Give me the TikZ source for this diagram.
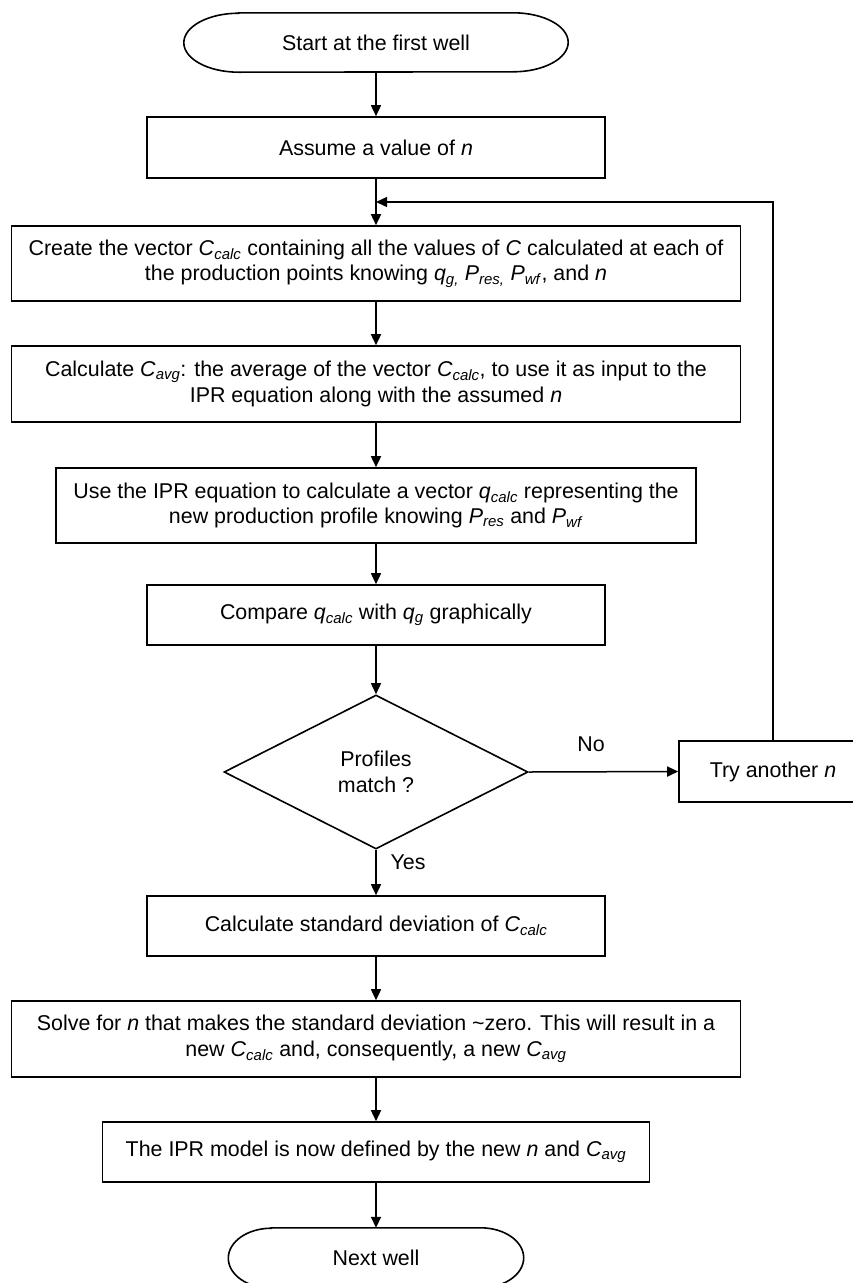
\documentclass[tikz,border=0pt]{standalone}
\usepackage{fontspec}
\setmainfont{Liberation Sans}
\usetikzlibrary{shapes.geometric,arrows.meta}

% italic symbol with italic subscript
\newcommand\vsub[2]{\textit{#1}\textsubscript{\textit{#2}}}

\tikzset{
  base/.style={font=\fontsize{21.4}{25.5}\selectfont, align=center, inner sep=0pt},
  box/.style={base, draw, line width=1.6pt, rectangle},
  termtext/.style={base, draw=none},
  decision/.style={base, draw, line width=1.6pt, diamond, shape aspect=1.97},
  shapeline/.style={line width=1.6pt},
  flow/.style={line width=1.5pt, -{Triangle[length=11pt,width=10pt]}},
  lbl/.style={base}
}

\begin{document}
\begin{tikzpicture}[x=1pt,y=-1pt]
\useasboundingbox (0,0) rectangle (852,1283);

% terminal: start
\node[termtext, minimum width=384pt, minimum height=59pt] (start) at (376,42.5) {Start at the first well};
\draw[shapeline] ([xshift=55pt]start.north west) -- ([xshift=-55pt]start.north east)
  arc[start angle=90, end angle=-90, x radius=55pt, y radius=29.5pt]
  -- ([xshift=55pt]start.south west)
  arc[start angle=270, end angle=90, x radius=55pt, y radius=29.5pt] -- cycle;

% process steps
\node[box, minimum width=458pt, minimum height=61pt] (assume) at (376,147.5) {Assume a value of \textit{n}};
\node[box, minimum width=729pt, minimum height=75pt] (create) at (376,263.5)
  {Create the vector \vsub{C}{calc} containing all the values of \textit{C} calculated at each of\\
   the production points knowing \vsub{q}{g,} \vsub{P}{res,} \vsub{P}{wf}, and \textit{n}};
\node[box, minimum width=729pt, minimum height=76pt] (cavg) at (376,384)
  {Calculate \vsub{C}{avg}: the average of the vector \vsub{C}{calc}, to use it as input to the\\
   IPR equation along with the assumed \textit{n}};
\node[box, minimum width=640pt, minimum height=75pt] (ipr) at (376,505.5)
  {Use the IPR equation to calculate a vector \vsub{q}{calc} representing the\\
   new production profile knowing \vsub{P}{res} and \vsub{P}{wf}};
\node[box, minimum width=458pt, minimum height=60pt] (compare) at (376,615)
  {Compare \vsub{q}{calc} with \vsub{q}{g} graphically};

% decision
\node[decision, minimum width=304pt, minimum height=154pt] (match) at (376,772) {Profiles\\match ?};

\node[box, minimum width=188pt, minimum height=61pt] (try) at (773,771.5) {Try another \textit{n}};

\node[box, minimum width=458pt, minimum height=60pt] (std) at (376,926)
  {Calculate standard deviation of \vsub{C}{calc}};
\node[box, minimum width=729pt, minimum height=76pt] (solve) at (376,1039)
  {Solve for \textit{n} that makes the standard deviation \textasciitilde zero. This will result in a\\
   new \vsub{C}{calc} and, consequently, a new \vsub{C}{avg}};
\node[box, minimum width=547pt, minimum height=60pt] (model) at (376,1152)
  {The IPR model is now defined by the new \textit{n} and \vsub{C}{avg}};

% terminal: next well
\node[termtext, minimum width=295pt, minimum height=60pt] (next) at (376,1258) {Next well};
\draw[shapeline] ([xshift=43pt]next.north west) -- ([xshift=-43pt]next.north east)
  arc[start angle=90, end angle=-90, x radius=43pt, y radius=30pt]
  -- ([xshift=43pt]next.south west)
  arc[start angle=270, end angle=90, x radius=43pt, y radius=30pt] -- cycle;

% connectors
\coordinate (join) at (376,202);
\draw[flow] (start.south) -- (assume.north);
\draw[flow] (assume.south) -- (create.north);
\draw[flow] (create.south) -- (cavg.north);
\draw[flow] (cavg.south) -- (ipr.north);
\draw[flow] (ipr.south) -- (compare.north);
\draw[flow] (compare.south) -- (match.north);
\draw[flow] (match.east) -- (try.west);
\draw[flow] (try.north) |- (join);
\draw[flow] (match.south) -- (std.north);
\draw[flow] (std.south) -- (solve.north);
\draw[flow] (solve.south) -- (model.north);
\draw[flow] (model.south) -- (next.north);

% branch labels
\node[lbl] (nolbl) at (591,744) {No};
\node[lbl] (yeslbl) at (408,862) {Yes};
\end{tikzpicture}
\end{document}
